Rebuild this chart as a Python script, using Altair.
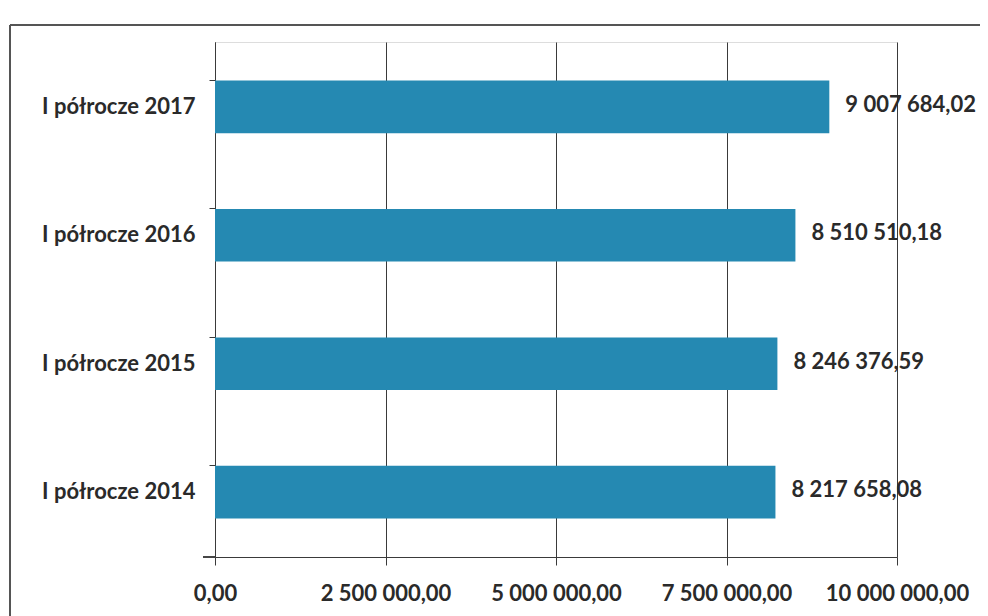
import altair as alt
import pandas as pd

categories = ["I półrocze 2017", "I półrocze 2016", "I półrocze 2015", "I półrocze 2014"]
values = [9007684.02, 8510510.18, 8246376.59, 8217658.08]
x_ticks = [0, 2500000, 5000000, 7500000, 10000000]

df = pd.DataFrame({"okres": categories, "kwota": values})

FONT = "Lato"
TXT = "#2a2a2a"
LINE = "#3a3a3a"
PL_EXPR = "replace(replace(format({v}, ',.2f'), /,/g, ' '), '.', ',')"

y_enc = alt.Y("okres:N", sort=categories, title=None,
              scale=alt.Scale(paddingInner=0.59, paddingOuter=0.3),
              axis=alt.Axis(labelFont=FONT, labelFontSize=22, labelFontWeight="bold",
                            labelColor=TXT, domainColor=LINE, tickColor=LINE,
                            tickSize=6, bandPosition=0, labelPadding=14,
                            domainWidth=1, tickWidth=1, grid=False))
x_enc = alt.X("kwota:Q", title=None,
              scale=alt.Scale(domain=[0, 10000000], nice=False),
              axis=alt.Axis(values=x_ticks, labelExpr=PL_EXPR.format(v="datum.value"),
                            labelFont=FONT,
                            labelFontSize=22, labelFontWeight="bold", labelColor=TXT,
                            domainColor=LINE, tickColor=LINE, tickSize=8,
                            labelPadding=18, labelFlush=False, labelOverlap=False,
                            grid=True, gridColor=LINE, gridWidth=1, gridOpacity=1))

frame_top = alt.Chart(df).mark_rule(stroke="#555555", strokeWidth=1.5, clip=False).encode(
    x=alt.value(-205), x2=alt.value(780), y=alt.value(-17)
)
frame_left = alt.Chart(df).mark_rule(stroke="#555555", strokeWidth=1.5, clip=False).encode(
    x=alt.value(-205), y=alt.value(-17), y2=alt.value(600)
)
bottom_tick = alt.Chart(df).mark_rule(stroke=LINE, strokeWidth=1, clip=False).encode(
    x=alt.value(-12), x2=alt.value(0), y=alt.value(515)
)

bars = alt.Chart(df).mark_bar(color="#2589b2").encode(x=x_enc, y=y_enc)

labels = alt.Chart(df).transform_calculate(
    etykieta=PL_EXPR.format(v="datum.kwota")
).mark_text(align="left", baseline="middle", dx=16, dy=-2,
            font=FONT, fontSize=22, fontWeight="bold",
            color=TXT).encode(
    x="kwota:Q", y=alt.Y("okres:N", sort=categories),
    text="etykieta:N")

chart = (frame_top + frame_left + bottom_tick + bars + labels).properties(
    width=682, height=515,
    padding={"left": 207, "top": 34, "right": 83, "bottom": 59},
    autosize=alt.AutoSizeParams(type="none"),
).configure_view(stroke=None).configure(background="white")

chart.save("out.html", embed_options={"renderer": "svg", "actions": False})
